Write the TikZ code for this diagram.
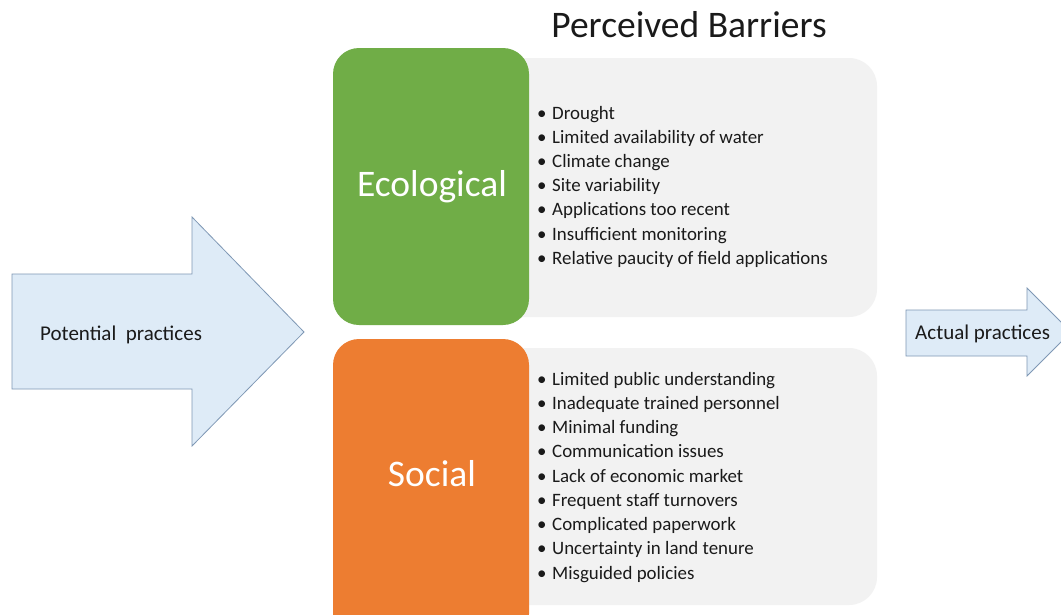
\documentclass[tikz,border=0pt]{standalone}
\usepackage{fontspec}
\setmainfont{Carlito}
\definecolor{ecogreen}{HTML}{70AD47}
\definecolor{socorange}{HTML}{ED7D31}
\definecolor{panelgray}{HTML}{F2F2F2}
\definecolor{arrowfill}{HTML}{DEEBF7}
\definecolor{arrowline}{HTML}{7F98B5}
\definecolor{inktext}{HTML}{1A1A1A}
\begin{document}
\begin{tikzpicture}[x=1pt,y=-1pt,
  panel/.style={fill=panelgray, draw=none, rounded corners=28pt},
  catbox/.style={draw=none, rounded corners=26pt},
  blockarrow/.style={fill=arrowfill, draw=arrowline, line width=0.8pt, line join=miter},
  item/.style={anchor=base west, inner sep=0pt, text=inktext, font=\fontsize{18.9}{21}\selectfont},
  cat/.style={anchor=base, inner sep=0pt, text=white, font=\fontsize{37.5}{42}\selectfont},
  arrowlabel/.style={anchor=base west, inner sep=0pt, text=inktext, font=\fontsize{21}{24}\selectfont}]
\useasboundingbox (0,0) rectangle (1061,614);
\clip (0,0) rectangle (1061,614);
\fill[white] (0,0) rectangle (1061,614);

% title
\node[anchor=base, inner sep=0pt, text=inktext, font=\fontsize{37.5}{42}\selectfont] (title) at (689,37) {Perceived Barriers};

% grey panels holding the lists
\path[panel] (480,58) rectangle (877,317);
\path[panel] (480,348) rectangle (877,605);

% category boxes
\path[catbox, fill=ecogreen] (333,48) rectangle (529,325);
\path[catbox, fill=socorange] (333,339) rectangle (529,640);
\node[cat] (eco) at (432,196) {Ecological};
\node[cat] (soc) at (432,486) {Social};

% ecological barriers
\foreach [count=\i] \t in {Drought, Limited availability of water, Climate change, Site variability, Applications too recent, Insufficient monitoring, Relative paucity of field applications}
  \node[item] (eco\i) at (537,{119+24.2*(\i-1)}) {\makebox[15pt][l]{\textbullet}\t};

% social barriers
\foreach [count=\i] \t in {Limited public understanding, Inadequate trained personnel, Minimal funding, Communication issues, Lack of economic market, Frequent staff turnovers, Complicated paperwork, Uncertainty in land tenure, Misguided policies}
  \node[item] (soc\i) at (537,{385+24.25*(\i-1)}) {\makebox[15pt][l]{\textbullet}\t};

% block arrows
\draw[blockarrow] (12,274) -- (192,274) -- (192,217) -- (304,332) -- (192,446) -- (192,389) -- (12,389) -- cycle;
\node[arrowlabel] (potential) at (40,340) {Potential\ \ practices};

\draw[blockarrow] (906,310) -- (1027,310) -- (1027,288) -- (1071,332) -- (1027,376) -- (1027,356) -- (906,356) -- cycle;
\node[arrowlabel] (actual) at (915,339) {Actual practices};
\end{tikzpicture}
\end{document}
